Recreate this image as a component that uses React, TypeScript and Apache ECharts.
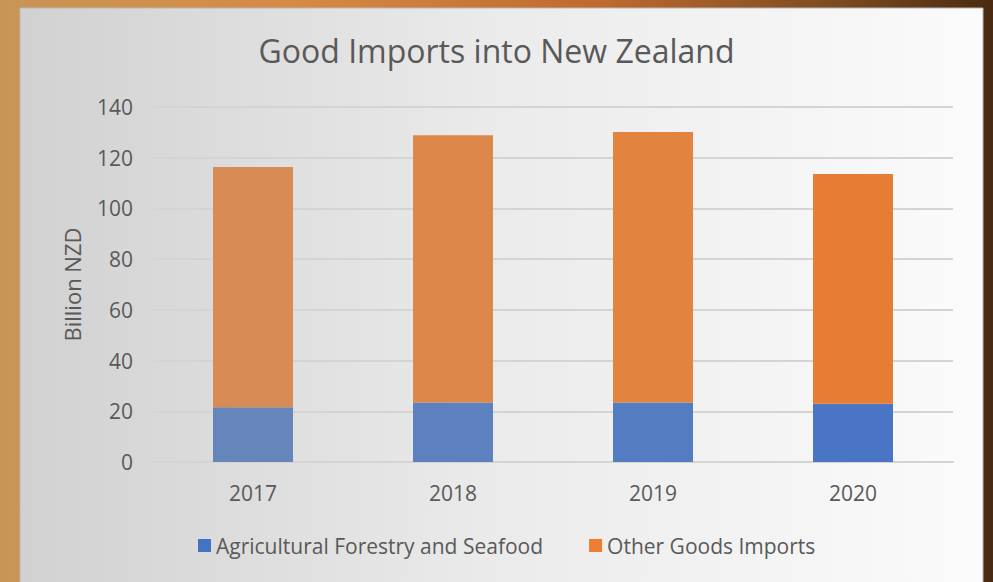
import React, { useEffect, useRef } from "react";
import * as echarts from "echarts";

const years = ["2017", "2018", "2019", "2020"];
const agricultural = [21.6, 23.5, 23.5, 23.0];
const otherGoods = [94.7, 105.4, 106.6, 90.6];
const yTicks = { min: 0, max: 140, interval: 20 };

const blueShades = ["#6686bb", "#5d80bf", "#537cc1", "#4a75c4"];
const orangeShades = ["#d98b55", "#de874a", "#e2843f", "#e77d35"];

const FONT = "'Open Sans', sans-serif";
const TEXT = "#595959";

export default function App() {
  const ref = useRef<HTMLDivElement>(null);
  useEffect(() => {
    if (!ref.current) return;
    const chart = echarts.init(ref.current, null, { renderer: "svg" });
    chart.setOption({
      animation: false,
      backgroundColor: {
        type: "linear",
        x: 0, y: 0, x2: 1, y2: 0,
        colorStops: [
          { offset: 0, color: "#c99556" },
          { offset: 0.3, color: "#d68a45" },
          { offset: 0.6, color: "#c06a30" },
          { offset: 0.85, color: "#7a4a20" },
          { offset: 1, color: "#4a2a10" },
        ],
      },
      graphic: [
        {
          type: "rect",
          z: -10,
          silent: true,
          shape: { x: 20, y: 8, width: 963, height: 580 },
          style: {
            fill: {
              type: "linear",
              x: 0, y: 0, x2: 1, y2: 0,
              colorStops: [
                { offset: 0, color: "#d1d1d1" },
                { offset: 0.5, color: "#ebebeb" },
                { offset: 1, color: "#fbfbfb" },
              ],
            },
            stroke: "#b8b8b8",
            lineWidth: 1,
          },
        },
      ],
      title: {
        text: "Good Imports into New Zealand",
        left: "center",
        top: 34,
        padding: 0,
        textStyle: { fontFamily: FONT, fontSize: 32, fontWeight: "normal", color: TEXT },
      },
      legend: {
        left: 198,
        top: 535,
        padding: 0,
        itemWidth: 13,
        itemHeight: 13,
        itemGap: 46,
        icon: "rect",
        textStyle: { fontFamily: FONT, fontSize: 21, color: TEXT },
        data: ["Agricultural Forestry and Seafood", "Other Goods Imports"],
      },
      grid: { left: 153, right: 40, top: 107, bottom: 120, containLabel: false },
      xAxis: {
        type: "category",
        data: years,
        axisLine: { lineStyle: { color: "#d4d4d4", width: 2 } },
        axisTick: { show: false },
        axisLabel: { fontFamily: FONT, fontSize: 21, color: TEXT, margin: 20 },
      },
      yAxis: {
        type: "value",
        min: yTicks.min,
        max: yTicks.max,
        interval: yTicks.interval,
        name: "Billion NZD",
        nameLocation: "middle",
        nameRotate: 90,
        nameGap: 70,
        nameTextStyle: { fontFamily: FONT, fontSize: 22, color: TEXT },
        axisLine: { show: false },
        axisTick: { show: false },
        axisLabel: { fontFamily: FONT, fontSize: 21, color: TEXT, margin: 20 },
        splitLine: { lineStyle: { color: "#d4d4d4", width: 2 } },
      },
      series: [
        {
          name: "Agricultural Forestry and Seafood",
          type: "bar",
          stack: "total",
          barWidth: 80,
          itemStyle: { color: "#4472c4" },
          data: agricultural.map((v, i) => ({ value: v, itemStyle: { color: blueShades[i] } })),
        },
        {
          name: "Other Goods Imports",
          type: "bar",
          stack: "total",
          barWidth: 80,
          itemStyle: { color: "#ed7d31" },
          data: otherGoods.map((v, i) => ({ value: v, itemStyle: { color: orangeShades[i] } })),
        },
      ],
    });
    return () => chart.dispose();
  }, []);
  return (
    <div
      ref={ref}
      style={{ position: "absolute", left: 0, top: 0, width: 993, height: 582 }}
    />
  );
}
